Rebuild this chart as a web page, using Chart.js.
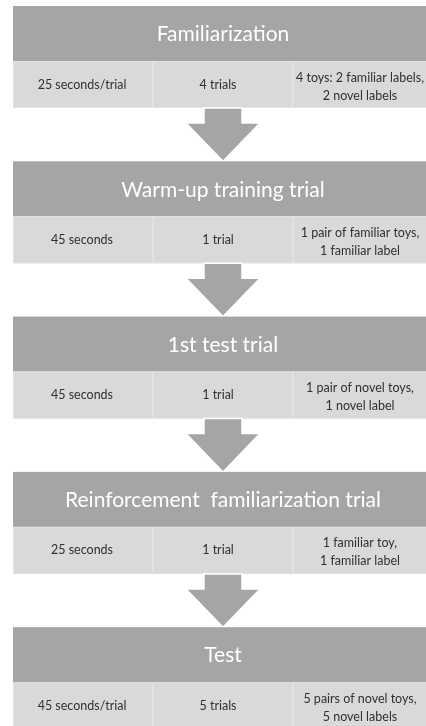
<!DOCTYPE html>
<html>
<head>
<meta charset="utf-8">
<script src="https://cdn.jsdelivr.net/npm/chart.js@4"></script>
<style>
  html, body { margin: 0; padding: 0; background: #fff; }
  #wrap { width: 426px; height: 726px; }
</style>
</head>
<body>
<div id="wrap"><canvas id="chart" width="426" height="726"></canvas></div>
<script>
// procedure steps, top to bottom
const stages = ["Familiarization", "Warm-up training trial", "1st test trial", "Reinforcement  familiarization trial", "Test"];
const durations = ["25 seconds/trial", "45 seconds", "45 seconds", "25 seconds", "45 seconds/trial"];
const trialCounts = ["4 trials", "1 trial", "1 trial", "1 trial", "5 trials"];
const materials = [
  ["4 toys: 2 familiar labels,", "2 novel labels"],
  ["1 pair of familiar toys,", "1 familiar label"],
  ["1 pair of novel toys,", "1 novel label"],
  ["1 familiar toy,", "1 familiar label"],
  ["5 pairs of novel toys,", "5 novel labels"]
];

// layout in scale units (pixels of the 426x726 page)
const boxLeft = 13, boxRight = 433;
const colEdges = [13, 153, 293, 433];
const colText = [82, 218, 360];
const firstTop = 6, step = 155.3;
const headH = 55, rowH = 47;

const HEAD = "#a5a5a5", ROW = "#d9d9d9", EDGE = "#e2e2e2";
const FONT = "Lato, 'Open Sans', sans-serif";

const flowPlugin = {
  id: "flow",
  afterDraw(chart) {
    const ctx = chart.ctx;
    const x = chart.scales.x, y = chart.scales.y;
    const px = v => x.getPixelForValue(v);
    const py = v => y.getPixelForValue(v);
    ctx.save();
    stages.forEach((name, i) => {
      const top = firstTop + i * step;
      // header band
      ctx.fillStyle = HEAD;
      ctx.fillRect(px(boxLeft), py(top), px(boxRight) - px(boxLeft), py(top + headH) - py(top));
      ctx.fillStyle = "#fff";
      ctx.font = "21px " + FONT;
      ctx.textAlign = "center";
      ctx.textBaseline = "middle";
      ctx.fillText(name, px((boxLeft + boxRight) / 2), py(top + headH / 2 + 1));

      // detail row, three cells
      const r0 = top + headH, r1 = r0 + rowH;
      for (let c = 0; c < 3; c++) {
        ctx.fillStyle = ROW;
        ctx.fillRect(px(colEdges[c]), py(r0), px(colEdges[c + 1]) - px(colEdges[c]), py(r1) - py(r0));
        ctx.strokeStyle = EDGE;
        ctx.lineWidth = 1;
        ctx.strokeRect(px(colEdges[c]) + 0.5, py(r0) + 0.5, px(colEdges[c + 1]) - px(colEdges[c]) - 1, py(r1) - py(r0) - 1);
      }
      ctx.fillStyle = "#303030";
      ctx.font = "12.5px " + FONT;
      const mid = r0 + rowH / 2;
      ctx.fillText(durations[i], px(colText[0]), py(mid));
      ctx.fillText(trialCounts[i], px(colText[1]), py(mid));
      const lines = materials[i];
      lines.forEach((ln, k) => {
        ctx.fillText(ln, px(colText[2]), py(mid + 2 + (k - (lines.length - 1) / 2) * 18));
      });

      // arrow down to the next step
      if (i < stages.length - 1) {
        const a0 = r1, a1 = firstTop + (i + 1) * step;
        const cx = 223, shaftHalf = 19, headHalf = 37, headTop = a0 + 15;
        ctx.beginPath();
        ctx.moveTo(px(cx - shaftHalf), py(a0));
        ctx.lineTo(px(cx + shaftHalf), py(a0));
        ctx.lineTo(px(cx + shaftHalf), py(headTop));
        ctx.lineTo(px(cx + headHalf), py(headTop));
        ctx.lineTo(px(cx), py(a1));
        ctx.lineTo(px(cx - headHalf), py(headTop));
        ctx.lineTo(px(cx - shaftHalf), py(headTop));
        ctx.closePath();
        ctx.fillStyle = HEAD;
        ctx.fill();
        ctx.strokeStyle = "#ffffff";
        ctx.lineWidth = 1.5;
        ctx.stroke();
      }
    });
    ctx.restore();
  }
};

new Chart(document.getElementById("chart").getContext("2d"), {
  type: "scatter",
  data: { datasets: [{ data: [] }] },
  options: {
    responsive: false,
    animation: false,
    layout: { padding: 0 },
    scales: {
      x: { type: "linear", min: 0, max: 426, display: false },
      y: { type: "linear", min: 0, max: 726, reverse: true, display: false }
    },
    plugins: { legend: { display: false }, tooltip: { enabled: false } }
  },
  plugins: [flowPlugin]
});
</script>
</body>
</html>
